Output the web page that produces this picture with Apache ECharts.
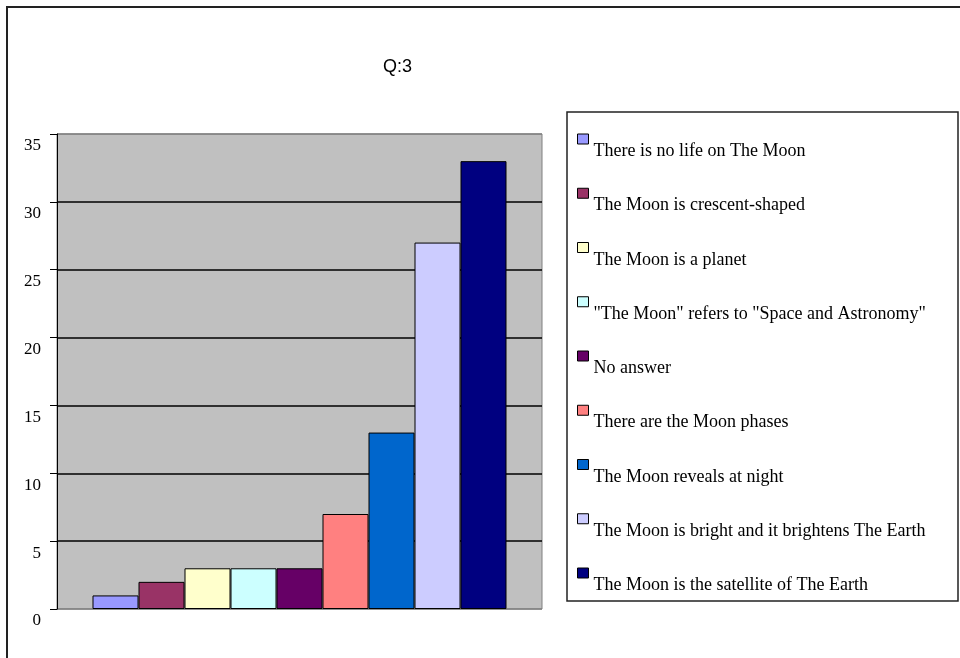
<!DOCTYPE html>
<html>
<head>
<meta charset="utf-8">
<script src="https://cdn.jsdelivr.net/npm/echarts@6/dist/echarts.min.js"></script>
<style>html,body{margin:0;padding:0;background:#fff}#c{width:960px;height:658px}</style>
</head>
<body>
<div id="c"></div>
<script>
const categories = ['Q:3'];
const seriesNames = [
  'There is no life on The Moon',
  'The Moon is crescent-shaped',
  'The Moon is a planet',
  '"The Moon" refers to "Space and Astronomy"',
  'No answer',
  'There are the Moon phases',
  'The Moon reveals at night',
  'The Moon is bright and it brightens The Earth',
  'The Moon is the satellite of The Earth'
];
const seriesValues = [1, 2, 3, 3, 3, 7, 13, 27, 33];
const seriesColors = ['#9999FF', '#993366', '#FFFFCC', '#CCFFFF', '#660066', '#FF8080', '#0066CC', '#CCCCFF', '#000080'];

const chart = echarts.init(document.getElementById('c'));
const series = seriesNames.map((n, i) => ({
  name: n,
  type: 'bar',
  data: [seriesValues[i]],
  barWidth: 46,
  barGap: '0%',
  itemStyle: { color: seriesColors[i], borderColor: '#000', borderWidth: 1 },
  emphasis: { disabled: true }
}));

chart.setOption({
  animation: false,
  title: {
    text: 'Q:3',
    left: 378, top: 53,
    textStyle: { fontFamily: 'Liberation Sans', fontSize: 18, fontWeight: 'normal', color: '#000' }
  },
  graphic: [
    { type: 'rect', shape: { x: 7, y: 7, width: 1000, height: 700 }, style: { fill: null, stroke: '#222', lineWidth: 2 }, silent: true },
    { type: 'rect', shape: { x: 567, y: 112, width: 391, height: 489 }, style: { fill: '#fff', stroke: '#222', lineWidth: 1.5 }, silent: true, z: -1 }
  ],
  legend: {
    orient: 'vertical',
    left: 577, top: 117.5,
    padding: 0,
    itemGap: 11.25,
    itemWidth: 11, itemHeight: 10,
    icon: 'rect',
    selectedMode: false,
    itemStyle: { borderColor: '#000', borderWidth: 1 },
    formatter: function (name) { return '{a|' + name + '}'; },
    textStyle: {
      fontFamily: 'Liberation Serif', fontSize: 18, color: '#000',
      rich: { a: { fontFamily: 'Liberation Serif', fontSize: 18, lineHeight: 18, color: '#000', padding: [25, 0, 0, 0] } }
    },
    data: seriesNames
  },
  grid: { left: 57, right: 418, top: 134, bottom: 49, show: true, backgroundColor: '#C0C0C0', borderColor: '#808080', borderWidth: 1 },
  xAxis: {
    type: 'category', data: categories,
    axisLine: { show: false }, axisTick: { show: false }, axisLabel: { show: false }
  },
  yAxis: {
    type: 'value', min: 0, max: 35, interval: 5,
    axisLine: { show: true, lineStyle: { color: '#000', width: 1 } },
    axisTick: { show: true, inside: false, length: 7, lineStyle: { color: '#000' } },
    axisLabel: {
      margin: 16,
      formatter: function (v) { return '{a|' + v + '}'; },
      rich: { a: { fontFamily: 'Liberation Serif', fontSize: 17, lineHeight: 17, color: '#000', padding: [24, 0, 0, 0] } }
    },
    splitLine: { show: true, lineStyle: { color: ['#808080', '#000', '#000', '#000', '#000', '#000', '#000', '#808080'], width: 1.5 } }
  },
  series: series
});
</script>
</body>
</html>
